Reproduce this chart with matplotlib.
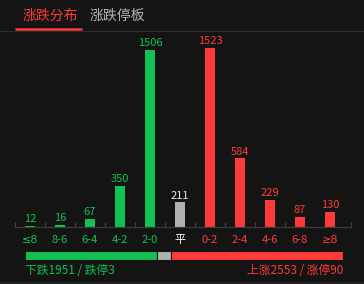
import matplotlib
matplotlib.use("Agg")
from matplotlib import pyplot as plt
from matplotlib.lines import Line2D

plt.rcParams['font.family'] = ['Noto Sans CJK SC', 'DejaVu Sans']

# 涨跌分布数据
categories = ["≤8", "8-6", "6-4", "4-2", "2-0", "平", "0-2", "2-4", "4-6", "6-8", "≥8"]
counts = [12, 16, 67, 350, 1506, 211, 1523, 584, 229, 87, 130]
limit_down = 3
limit_up = 90

BG = "#141414"
GREEN = "#12c152"
RED = "#ff3a3a"
GRAY = "#b0b0b0"

W, H = 364, 284


def px_box(x0, y0, x1, y1):
    # pixel box (top-left origin) -> figure fraction [left, bottom, width, height]
    return [x0 / W, 1 - y1 / H, (x1 - x0) / W, (y1 - y0) / H]


def main() -> None:
    n_down = sum(counts[:5])
    n_flat = counts[5]
    n_up = sum(counts[6:])

    colors = [GREEN] * 5 + [GRAY] + [RED] * 5
    label_colors = [GREEN] * 5 + ["#e8e8e8"] + [RED] * 5
    tick_colors = [GREEN] * 5 + ["#ffffff"] + [RED] * 5

    fig = plt.figure(figsize=(W / 100, H / 100), dpi=100, facecolor=BG)

    # Tab header
    fig.text(23 / W, 1 - 15.5 / H, "涨跌分布", color=RED, fontsize=10, va="center", ha="left")
    fig.text(90 / W, 1 - 15.5 / H, "涨跌停板", color="#b8b8b8", fontsize=10, va="center", ha="left")
    fig.add_artist(Line2D([0, 1], [1 - 30.5 / H] * 2, color="#2a2a2a", lw=0.8,
                          transform=fig.transFigure))
    fig.add_artist(Line2D([15 / W, 82 / W], [1 - 28.5 / H] * 2, color=RED, lw=1.8,
                          transform=fig.transFigure, solid_capstyle="butt"))

    # Histogram
    ax = fig.add_axes(px_box(15, 31, 351, 227))
    ax.set_facecolor(BG)
    x = list(range(len(categories)))
    ax.bar(x, counts, width=10 / 30, color=colors)
    ax.set_xlim(-0.5, 10.7)
    ax.set_ylim(0, max(counts) * (227 - 31) / (227 - 48))

    for xi, v, c in zip(x, counts, label_colors):
        ax.annotate(str(v), (xi, v), xytext=(0, 1.2), textcoords="offset points",
                    ha="center", va="bottom", color=c, fontsize=8)

    for side in ["top", "right", "left"]:
        ax.spines[side].set_visible(False)
    ax.spines["bottom"].set_color("#3c3c3c")
    ax.spines["bottom"].set_linewidth(0.9)
    ax.set_yticks([])

    ax.set_xticks(x)
    ax.set_xticklabels(categories, fontsize=8)
    for lbl, c in zip(ax.get_xticklabels(), tick_colors):
        lbl.set_color(c)
        # the CJK font draws ≤/≥ with a double bar
        if lbl.get_text()[0] in "≤≥":
            lbl.set_family(['DejaVu Sans', 'Noto Sans CJK SC'])
    ax.tick_params(axis="x", which="major", length=0, pad=6)
    ax.set_xticks([i - 0.5 for i in range(10)] + [10.7], minor=True)
    ax.tick_params(axis="x", which="minor", direction="in", length=3.6,
                   color="#3c3c3c", width=0.9)

    # Proportion bar
    bx = fig.add_axes(px_box(25, 251, 343, 260))
    bx.set_facecolor(BG)
    seg_vals = [n_down, n_flat, n_up]
    seg_cols = [GREEN, GRAY, RED]
    left = 0
    for v, c in zip(seg_vals, seg_cols):
        bx.barh(0, v, left=left, height=1.0, color=c, edgecolor=BG, linewidth=0.8)
        left += v
    bx.set_xlim(0, left)
    bx.set_ylim(-0.5, 0.5)
    bx.axis("off")

    fig.text(25 / W, 1 - 270 / H, f"下跌{n_down} / 跌停{limit_down}", color=GREEN,
             fontsize=8.5, va="center", ha="left")
    fig.text(343 / W, 1 - 270 / H, f"上涨{n_up} / 涨停{limit_up}", color=RED,
             fontsize=8.5, va="center", ha="right")

    fig.add_artist(Line2D([0, 1], [1.5 / H] * 2, color="#222222", lw=2,
                          transform=fig.transFigure))

    plt.savefig("out.png", dpi=100, facecolor=BG)


if __name__ == "__main__":
    main()
